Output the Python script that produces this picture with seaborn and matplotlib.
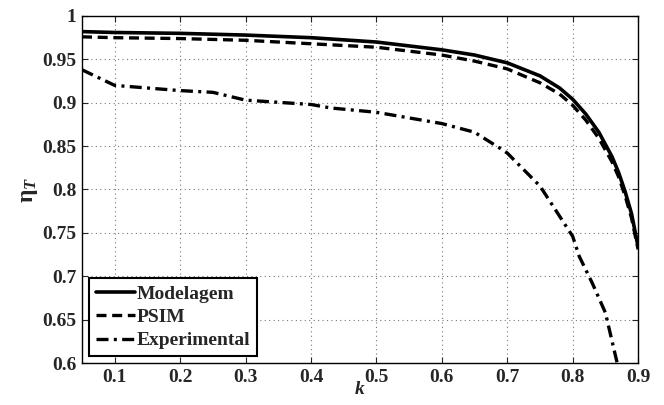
import numpy as np
import pandas as pd
import seaborn as sns
import matplotlib.pyplot as plt

# curves
k_mod = [0.05, 0.1, 0.2, 0.3, 0.4, 0.5, 0.6, 0.65, 0.7, 0.75, 0.78, 0.8, 0.82, 0.84, 0.86, 0.87, 0.88, 0.89, 0.9]
eta_mod = [0.982, 0.981, 0.980, 0.978, 0.975, 0.970, 0.961, 0.955, 0.946, 0.931, 0.917, 0.904, 0.887, 0.866, 0.838, 0.820, 0.798, 0.772, 0.734]

k_psim = [0.05, 0.1, 0.2, 0.3, 0.4, 0.5, 0.6, 0.65, 0.7, 0.75, 0.78, 0.8, 0.82, 0.84, 0.86, 0.87, 0.88, 0.89, 0.9]
eta_psim = [0.976, 0.975, 0.974, 0.972, 0.968, 0.964, 0.955, 0.948, 0.939, 0.923, 0.910, 0.897, 0.880, 0.859, 0.832, 0.815, 0.793, 0.767, 0.731]

k_exp = [0.05, 0.1, 0.2, 0.25, 0.3, 0.4, 0.43, 0.5, 0.6, 0.65, 0.69, 0.7, 0.75, 0.8, 0.81, 0.83, 0.85, 0.868]
eta_exp = [0.938, 0.920, 0.914, 0.912, 0.903, 0.898, 0.894, 0.889, 0.876, 0.866, 0.847, 0.842, 0.804, 0.746, 0.723, 0.692, 0.658, 0.600]

sns.set_style("ticks")
plt.rcParams['font.family'] = ['Liberation Serif', 'DejaVu Serif']
plt.rcParams['font.weight'] = 'bold'
plt.rcParams['mathtext.fontset'] = 'custom'
plt.rcParams['mathtext.rm'] = 'Liberation Serif:bold'
plt.rcParams['mathtext.it'] = 'Liberation Serif:bold:italic'

fig, ax = plt.subplots(figsize=(6.64, 4.05), dpi=100)
fig.subplots_adjust(left=0.1235, right=0.961, top=0.9605, bottom=0.1037)

df_mod = pd.DataFrame({'k': k_mod, 'eta': eta_mod})
df_psim = pd.DataFrame({'k': k_psim, 'eta': eta_psim})
df_exp = pd.DataFrame({'k': k_exp, 'eta': eta_exp})

sns.lineplot(data=df_psim, x='k', y='eta', ax=ax, color='black', lw=2.4, label='PSIM',
             dashes=False, linestyle=(0, (3.0, 1.7)))
sns.lineplot(data=df_mod, x='k', y='eta', ax=ax, color='black', lw=2.6, label='Modelagem')
sns.lineplot(data=df_exp, x='k', y='eta', ax=ax, color='black', lw=2.4, label='Experimental',
             dashes=False, linestyle=(0, (3.6, 1.6, 0.9, 1.6)))

ax.set_xlim(0.05, 0.9)
ax.set_ylim(0.6, 1.0)
ax.set_xticks(np.arange(0.1, 0.91, 0.1))
ax.set_xticklabels(['0.1', '0.2', '0.3', '0.4', '0.5', '0.6', '0.7', '0.8', '0.9'])
ax.set_yticks(np.arange(0.6, 1.001, 0.05))
ax.set_yticklabels(['0.6', '0.65', '0.7', '0.75', '0.8', '0.85', '0.9', '0.95', '1'])
ax.tick_params(direction='in', top=True, right=True, labelsize=14, length=4, width=0.8, pad=4)
for s in ax.spines.values():
    s.set_linewidth(1.0)
    s.set_color('black')
ax.grid(True, linestyle=(0, (1, 3)), color='#777777', linewidth=0.8)

ax.set_xlabel('$k$', fontsize=14, labelpad=-3)
ax.set_ylabel(r'$\mathrm{\eta}_T$', fontsize=17, labelpad=2)

handles, labels = ax.get_legend_handles_labels()
order = [1, 0, 2]
leg = ax.legend([handles[i] for i in order], [labels[i] for i in order],
                loc='lower left', fontsize=14, frameon=True, fancybox=False,
                edgecolor='black', framealpha=1, borderaxespad=0.35,
                handlelength=2.0, handletextpad=0.1, labelspacing=0.3, borderpad=0.35)
leg.get_frame().set_linewidth(1.5)

fig.savefig('out.png', dpi=100)
